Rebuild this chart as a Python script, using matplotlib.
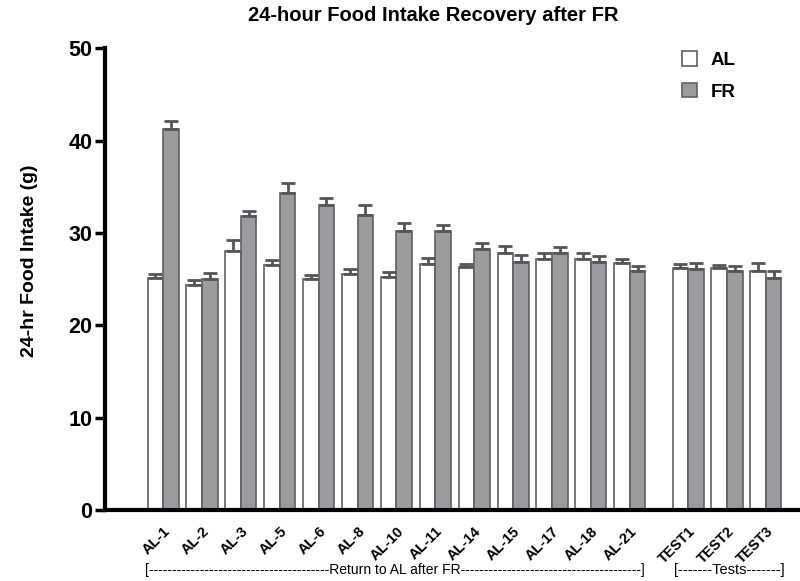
import numpy as np
import matplotlib

matplotlib.use("Agg")
import matplotlib.pyplot as plt

plt.rcParams["font.family"] = ["Liberation Sans", "DejaVu Sans"]

# ── data ─────────────────────────────────────────────────────────
days = ["AL-1", "AL-2", "AL-3", "AL-5", "AL-6", "AL-8", "AL-10", "AL-11",
        "AL-14", "AL-15", "AL-17", "AL-18", "AL-21", "TEST1", "TEST2", "TEST3"]
al_mean = [25.1, 24.4, 28.1, 26.5, 25.0, 25.6, 25.2, 26.6,
           26.3, 27.8, 27.2, 27.2, 26.7, 26.2, 26.2, 25.9]
al_sem = [0.5, 0.5, 1.1, 0.55, 0.4, 0.5, 0.6, 0.7,
          0.35, 0.8, 0.6, 0.6, 0.5, 0.45, 0.35, 0.8]
fr_mean = [41.3, 25.0, 31.8, 34.3, 33.0, 32.0, 30.2, 30.2,
           28.3, 26.9, 27.8, 26.9, 25.9, 26.1, 25.9, 25.1]
fr_sem = [0.8, 0.65, 0.6, 1.1, 0.8, 1.0, 0.9, 0.7,
          0.6, 0.75, 0.7, 0.65, 0.5, 0.65, 0.5, 0.8]

# recovery days sit side by side, tests after a gap of half a slot
x = np.array(list(range(13)) + [13.5, 14.5, 15.5])
w = 0.4

fig = plt.figure(figsize=(8, 5.81), dpi=100)
ax = fig.add_axes([0.131, 0.122, 0.875, 0.795])

err_kw = dict(ecolor="#555555", elinewidth=2.0, capsize=5, capthick=2.0)
ax.bar(x - w / 2, al_mean, w, color="white", edgecolor="#606060", linewidth=1.2,
       yerr=[np.zeros(len(al_sem)), al_sem], error_kw=err_kw, label="AL")
ax.bar(x + w / 2, fr_mean, w, color="#9c9ca0", edgecolor="#606060", linewidth=1.2,
       yerr=[np.zeros(len(fr_sem)), fr_sem], error_kw=err_kw, label="FR")

ax.set_xlim(-1.5, 16.5)
ax.set_ylim(0, 50)
ax.set_yticks(range(0, 51, 10))
ax.set_xticks(x)
ax.set_xticklabels(days, rotation=45, ha="right", rotation_mode="anchor",
                   fontsize=10.5, fontweight="bold")
ax.tick_params(axis="x", length=0, pad=10)
ax.tick_params(axis="y", length=7, width=2.5, labelsize=15.5, pad=2)
for lbl in ax.get_yticklabels():
    lbl.set_fontweight("bold")

for side in ("top", "right"):
    ax.spines[side].set_visible(False)
for side in ("left", "bottom"):
    ax.spines[side].set_linewidth(3)

ax.set_ylabel("24-hr Food Intake (g)", fontsize=14, fontweight="bold")
ax.yaxis.set_label_coords(-0.095, 0.54)
fig.suptitle("24-hour Food Intake Recovery after FR", fontsize=14.5,
             fontweight="bold", x=0.541, y=0.99)

ax.legend(loc="upper right", bbox_to_anchor=(0.925, 1.03), frameon=False,
          prop={"weight": "bold", "size": 13.5},
          handlelength=0.8, handleheight=0.8, labelspacing=0.75,
          handletextpad=0.7)

# bracket captions under the tick labels
trans = ax.get_xaxis_transform()
ax.text(5.95, -0.13, "[" + "-" * 39 + "Return to AL after FR" + "-" * 39 + "]",
        transform=trans, ha="center", va="center", fontsize=10)
ax.text(14.55, -0.13, "[-------Tests-------]", transform=trans,
        ha="center", va="center", fontsize=10.5)

fig.savefig("out.png", dpi=100)
